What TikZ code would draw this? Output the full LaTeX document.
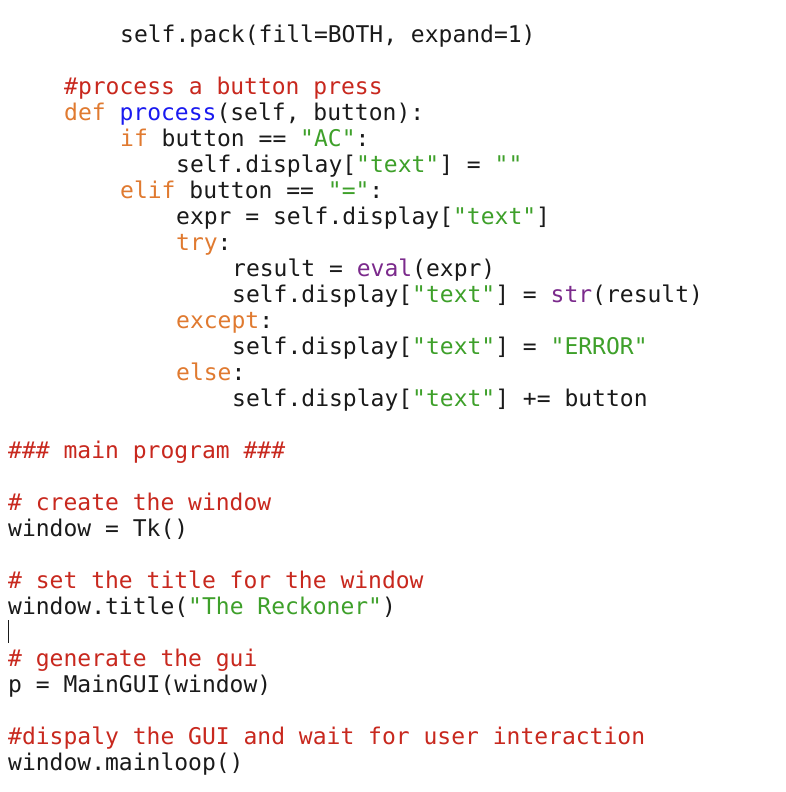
\documentclass[tikz,border=0pt]{standalone}
\usepackage{fontspec}
\setmonofont{DejaVu Sans Mono}
\definecolor{cm}{HTML}{C8281E}
\definecolor{kw}{HTML}{E07A30}
\definecolor{fn}{HTML}{1A1AF0}
\definecolor{st}{HTML}{3EA02A}
\definecolor{bi}{HTML}{7B2A8C}
\definecolor{tx}{HTML}{1A1A1A}
\newcommand{\C}[1]{\textcolor{cm}{#1}}
\newcommand{\K}[1]{\textcolor{kw}{#1}}
\newcommand{\F}[1]{\textcolor{fn}{#1}}
\newcommand{\Sg}[1]{\textcolor{st}{#1}}
\newcommand{\B}[1]{\textcolor{bi}{#1}}
\begin{document}
\begin{tikzpicture}[x=1pt,y=-1pt,
  code/.style={anchor=base west,inner sep=0pt,text=tx,font=\ttfamily\fontsize{23}{26}\selectfont}]
\useasboundingbox[fill=white] (0,0) rectangle (785,792);
\node[code] (l1) at (120,43) {self.pack(fill=BOTH, expand=1)};
\node[code] (l2) at (64,94) {\C{\#process a button press}};
\node[code] (l3) at (64,120) {\K{def} \F{process}(self, button):};
\node[code] (l4) at (120,146) {\K{if} button == \Sg{"AC"}:};
\node[code] (l5) at (176,172) {self.display[\Sg{"text"}] = \Sg{""}};
\node[code] (l6) at (120,198) {\K{elif} button == \Sg{"="}:};
\node[code] (l7) at (176,224) {expr = self.display[\Sg{"text"}]};
\node[code] (l8) at (176,250) {\K{try}:};
\node[code] (l9) at (232,276) {result = \B{eval}(expr)};
\node[code] (l10) at (232,302) {self.display[\Sg{"text"}] = \B{str}(result)};
\node[code] (l11) at (176,328) {\K{except}:};
\node[code] (l12) at (232,354) {self.display[\Sg{"text"}] = \Sg{"ERROR"}};
\node[code] (l13) at (176,380) {\K{else}:};
\node[code] (l14) at (232,406) {self.display[\Sg{"text"}] += button};
\node[code] (l15) at (8,458) {\C{\#\#\# main program \#\#\#}};
\node[code] (l16) at (8,510) {\C{\# create the window}};
\node[code] (l17) at (8,536) {window = Tk()};
\node[code] (l18) at (8,588) {\C{\# set the title for the window}};
\node[code] (l19) at (8,614) {window.title(\Sg{"The Reckoner"})};
\draw[tx,line width=1.2pt] (8.5,620) -- (8.5,643);
\node[code] (l20) at (8,666) {\C{\# generate the gui}};
\node[code] (l21) at (8,692) {p = MainGUI(window)};
\node[code] (l22) at (8,744) {\C{\#dispaly the GUI and wait for user interaction}};
\node[code] (l23) at (8,770) {window.mainloop()};
\end{tikzpicture}
\end{document}
